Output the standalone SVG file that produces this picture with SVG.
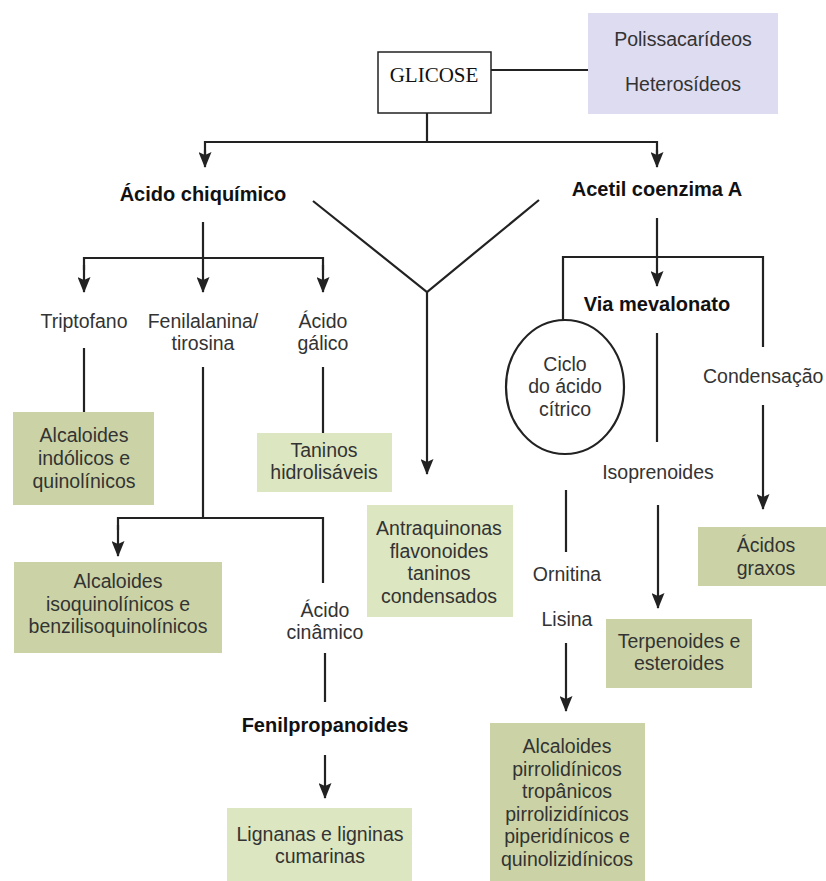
<svg xmlns="http://www.w3.org/2000/svg" width="826" height="881" viewBox="0 0 826 881">
<defs>
<marker id="ah" markerUnits="userSpaceOnUse" markerWidth="16" markerHeight="13" refX="15" refY="6.5" orient="auto" viewBox="0 0 16 13">
<path d="M0,0 L16,6.5 L0,13 L3,6.5 Z" fill="#222"/>
</marker>
</defs>
<style>
.t{font-family:"Liberation Sans",Arial,sans-serif;font-size:19.5px;fill:#333;text-anchor:middle}
.b{font-family:"Liberation Sans",Arial,sans-serif;font-size:20px;font-weight:bold;fill:#111;text-anchor:middle}
.ln{stroke:#222;stroke-width:2.2;fill:none}
.ar{stroke:#222;stroke-width:2.2;fill:none;marker-end:url(#ah)}
.g{fill:#cbd3a6}
.lg{fill:#dce6c1}
</style>
<rect width="826" height="881" fill="#fff"/>

<g id="connectors">
<line class="ln" x1="491" y1="70" x2="588" y2="70"/>
<line class="ln" x1="427" y1="113" x2="427" y2="142"/>
<polyline class="ln" points="205,155 205,142 657,142 657,155"/>
<line class="ar" x1="205" y1="150" x2="205" y2="167"/>
<line class="ar" x1="657" y1="150" x2="657" y2="167"/>
<polyline class="ln" points="313,201 427,292 539,200"/>
<line class="ar" x1="427" y1="292" x2="427" y2="474"/>
<line class="ar" x1="203" y1="222" x2="203" y2="292"/>
<polyline class="ln" points="84,270 84,258 323,258 323,270"/>
<line class="ar" x1="84" y1="265" x2="84" y2="292"/>
<line class="ar" x1="323" y1="265" x2="323" y2="292"/>
<line class="ln" x1="84" y1="348" x2="84" y2="412"/>
<line class="ln" x1="323" y1="367" x2="323" y2="433"/>
<line class="ln" x1="203" y1="367" x2="203" y2="518"/>
<polyline class="ln" points="118,530 118,518 323,518 323,583"/>
<line class="ar" x1="118" y1="525" x2="118" y2="556"/>
<line class="ln" x1="325" y1="653" x2="325" y2="702"/>
<line class="ar" x1="325" y1="755" x2="325" y2="798"/>
<line class="ar" x1="657" y1="218" x2="657" y2="286"/>
<polyline class="ln" points="563,320 563,257 763,257 763,347"/>
<line class="ln" x1="657" y1="333" x2="657" y2="442"/>
<line class="ar" x1="658" y1="505" x2="658" y2="608"/>
<line class="ar" x1="763" y1="405" x2="763" y2="509"/>
<line class="ln" x1="566" y1="490" x2="566" y2="552"/>
<line class="ar" x1="566" y1="643" x2="566" y2="711"/>
</g>

<g id="glicose">
<rect x="378" y="52" width="113" height="61" fill="#fff" stroke="#222" stroke-width="1.5"/>
<text x="434" y="82" font-family="'Liberation Serif','Times New Roman',serif" font-size="21" fill="#111" text-anchor="middle">GLICOSE</text>
</g>
<g id="polissacarideos">
<rect x="588" y="13" width="190" height="101" fill="#dedcf0"/>
<text class="t" x="683" y="46">Polissacarídeos</text>
<text class="t" x="683" y="91">Heterosídeos</text>
</g>
<g id="acido-chiquimico"><text class="b" x="203" y="201">Ácido chiquímico</text></g>
<g id="acetil"><text class="b" x="657" y="196">Acetil coenzima A</text></g>
<g id="triptofano"><text class="t" x="84" y="328">Triptofano</text></g>
<g id="fenilalanina"><text class="t" x="203" y="328">Fenilalanina/</text><text class="t" x="203" y="350">tirosina</text></g>
<g id="acido-galico"><text class="t" x="323" y="328">Ácido</text><text class="t" x="323" y="350">gálico</text></g>
<g id="alc-indolicos">
<rect class="g" x="13" y="412" width="141" height="93"/>
<text class="t" x="84" y="442">Alcaloides</text>
<text class="t" x="84" y="465">indólicos e</text>
<text class="t" x="84" y="488">quinolínicos</text>
</g>
<g id="taninos-hidro">
<rect class="lg" x="257" y="433" width="135" height="59"/>
<text class="t" x="324" y="457">Taninos</text>
<text class="t" x="324" y="479">hidrolisáveis</text>
</g>
<g id="alc-isoquinolinicos">
<rect class="g" x="14" y="562" width="208" height="91"/>
<text class="t" x="118" y="588">Alcaloides</text>
<text class="t" x="118" y="611">isoquinolínicos e</text>
<text class="t" x="118" y="633">benzilisoquinolínicos</text>
</g>
<g id="acido-cinamico"><text class="t" x="325" y="617">Ácido</text><text class="t" x="325" y="639">cinâmico</text></g>
<g id="fenilpropanoides"><text class="b" x="325" y="732">Fenilpropanoides</text></g>
<g id="lignanas">
<rect class="lg" x="227" y="808" width="185" height="73"/>
<text class="t" x="320" y="841">Lignanas e ligninas</text>
<text class="t" x="320" y="863">cumarinas</text>
</g>
<g id="antraquinonas">
<rect class="lg" x="367" y="505" width="146" height="112"/>
<text class="t" x="439" y="535">Antraquinonas</text>
<text class="t" x="439" y="558">flavonoides</text>
<text class="t" x="439" y="580">taninos</text>
<text class="t" x="439" y="603">condensados</text>
</g>
<g id="via-mevalonato"><text class="b" x="657" y="311">Via mevalonato</text></g>
<g id="ciclo">
<ellipse cx="565" cy="387" rx="59" ry="67" fill="#fff" stroke="#222" stroke-width="2.2"/>
<text class="t" x="565" y="371">Ciclo</text>
<text class="t" x="565" y="393">do ácido</text>
<text class="t" x="565" y="416">cítrico</text>
</g>
<g id="condensacao"><text class="t" x="703" y="383" style="text-anchor:start">Condensação</text></g>
<g id="isoprenoides"><text class="t" x="658" y="479">Isoprenoides</text></g>
<g id="acidos-graxos">
<rect class="g" x="698" y="527" width="128" height="59"/>
<text class="t" x="766" y="552">Ácidos</text>
<text class="t" x="766" y="575">graxos</text>
</g>
<g id="ornitina"><text class="t" x="567" y="581">Ornitina</text></g>
<g id="lisina"><text class="t" x="567" y="626">Lisina</text></g>
<g id="terpenoides">
<rect class="g" x="606" y="619" width="146" height="69"/>
<text class="t" x="679" y="648">Terpenoides e</text>
<text class="t" x="679" y="670">esteroides</text>
</g>
<g id="alc-pirrolidinicos">
<rect class="g" x="490" y="723" width="155" height="158"/>
<text class="t" x="567" y="753">Alcaloides</text>
<text class="t" x="567" y="776">pirrolidínicos</text>
<text class="t" x="567" y="798">tropânicos</text>
<text class="t" x="567" y="821">pirrolizidínicos</text>
<text class="t" x="567" y="843">piperidínicos e</text>
<text class="t" x="567" y="866">quinolizidínicos</text>
</g>
</svg>
